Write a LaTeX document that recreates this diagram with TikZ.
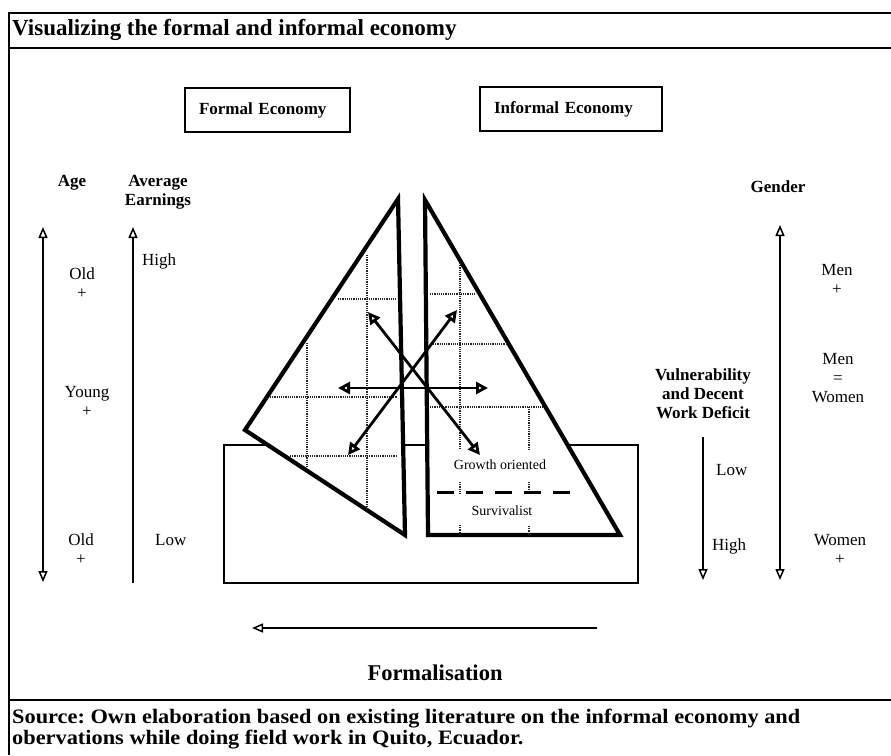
\documentclass[tikz,border=0pt]{standalone}
\usepackage{fontspec}
\setmainfont{Liberation Serif}
\newfontfamily\srcfont[FakeStretch=1.09]{Liberation Serif}
\usetikzlibrary{arrows.meta}
\frenchspacing

\begin{document}
\begin{tikzpicture}[x=1pt, y=-1pt,
  lbl/.style={inner sep=0pt, align=center, font=\fontsize{17}{19}\selectfont},
  blbl/.style={lbl, font=\fontsize{17}{19}\selectfont\bfseries},
  ecobox/.style={draw, line width=1.2pt, minimum height=44pt, inner xsep=14pt, align=left, font=\fontsize{17}{20}\selectfont\bfseries},
  tri/.style={line width=4.2pt, fill=white, line join=miter},
  gridline/.style={line width=1.2pt, densely dotted, black!85},
  side/.style={line width=1.5pt},
  srcline/.style={anchor=base west, inner sep=0pt, font=\srcfont\fontsize{20.5}{19}\selectfont\bfseries},
  sidehead/.tip={Triangle[open, length=11pt, width=9pt]},
  bighead/.tip={Triangle[open, length=12pt, width=12pt]},
  twoway/.style={line width=2.8pt, {bighead}-{bighead}}]
\useasboundingbox (0,0) rectangle (891,755);
% frame
\draw [line width=1.2pt] (891,13) -- (9,13) -- (9,755);
\draw [line width=1.6pt] (9,48) -- (891,48);
\draw [line width=1.4pt] (9,700) -- (891,700);
\node [anchor=base west, inner sep=0pt, font=\fontsize{23}{27}\selectfont\bfseries] (title) at (12,35) {Visualizing the formal and informal economy};
\node [ecobox, text width=137pt] (formal) at (267.5,110) {Formal Economy};
\node [ecobox, text width=154pt] (informal) at (571,109) {Informal Economy};
% left side
\node [blbl] (age) at (72,183) {Age};
\node [blbl] (earnings) at (158,192) {Average\\Earnings};
\coordinate (ageT) at (43,227);
\coordinate (ageB) at (43,582);
\draw [side, {sidehead}-{sidehead}] (ageT) -- (ageB);
\coordinate (earnT) at (133,227);
\coordinate (earnB) at (133,583);
\draw [side, {sidehead}-] (earnT) -- (earnB);
\node [lbl] (oldA) at (82,283) {Old\\+};
\node [lbl] (young) at (87,401) {Young\\+};
\node [lbl] (oldB) at (81,549) {Old\\+};
\node [lbl, anchor=west] (high) at (142,261) {High};
\node [lbl, anchor=west] (low) at (155,540) {Low};
% right side
\node [blbl] (gender) at (778,187) {Gender};
\coordinate (genT) at (780,225);
\coordinate (genB) at (780,580);
\draw [side, {sidehead}-{sidehead}] (genT) -- (genB);
\node [lbl] (menA) at (837,279) {Men\\+};
\node [lbl] (equal) at (838,378) {Men\\=\\Women};
\node [lbl] (women) at (840,549) {Women\\+};
\node [blbl] (vuln) at (703,394) {Vulnerability\\and Decent\\Work Deficit};
\coordinate (vulnT) at (703,437);
\coordinate (vulnB) at (703,580);
\draw [side, -{sidehead}] (vulnT) -- (vulnB);
\node [lbl, anchor=west] (vlow) at (716,470) {Low};
\node [lbl, anchor=west] (vhigh) at (712,546) {High};
% centre
\draw [line width=2.8pt] (224,445) rectangle (638,583);
\draw [tri] (398,199) -- (245,430) -- (405,535) -- cycle;
\draw [tri] (425,200) -- (428,535) -- (620,535) -- cycle;
\draw [gridline] (338,299) -- (397,299);
\draw [gridline] (270,397) -- (397,397);
\draw [gridline] (290,456) -- (397,456);
\draw [gridline] (367,255) -- (367,510);
\draw [gridline] (307,343) -- (307,467);
\draw [gridline] (430,294) -- (475,294);
\draw [gridline] (433,344) -- (506,344);
\draw [gridline] (430,407) -- (543,407);
\draw [gridline] (460,263) -- (460,450) (460,482) -- (460,494) (460,525) -- (460,536);
\draw [gridline] (529,407) -- (529,450) (529,482) -- (529,494) (529,526) -- (529,534);
\coordinate (hL) at (338,388);
\coordinate (hR) at (488,388);
\coordinate (dA1) at (368,312);
\coordinate (dA2) at (480,455);
\coordinate (dB1) at (457,310);
\coordinate (dB2) at (348,455);
\draw [twoway] (hL) -- (hR);
\draw [twoway] (dA1) -- (dA2);
\draw [twoway] (dB1) -- (dB2);
\node [lbl, font=\fontsize{14}{17}\selectfont] (growth) at (500,465) {Growth oriented};
\draw [line width=3pt, dash pattern=on 17pt off 12pt] (437,492) -- (570,492);
\node [lbl, font=\fontsize{14}{17}\selectfont] (surv) at (502,511) {Survivalist};
% bottom
\coordinate (formR) at (597,628);
\coordinate (formL) at (252,628);
\draw [side, -{sidehead}] (formR) -- (formL);
\node [lbl, font=\fontsize{22.5}{25}\selectfont\bfseries] (formalisation) at (435,673) {Formalisation};
\node [srcline] (src1) at (12,723) {Source: Own elaboration based on existing literature on the informal economy and};
\node [srcline] (src2) at (12,744) {obervations while doing field work in Quito, Ecuador.};
\end{tikzpicture}
\end{document}
